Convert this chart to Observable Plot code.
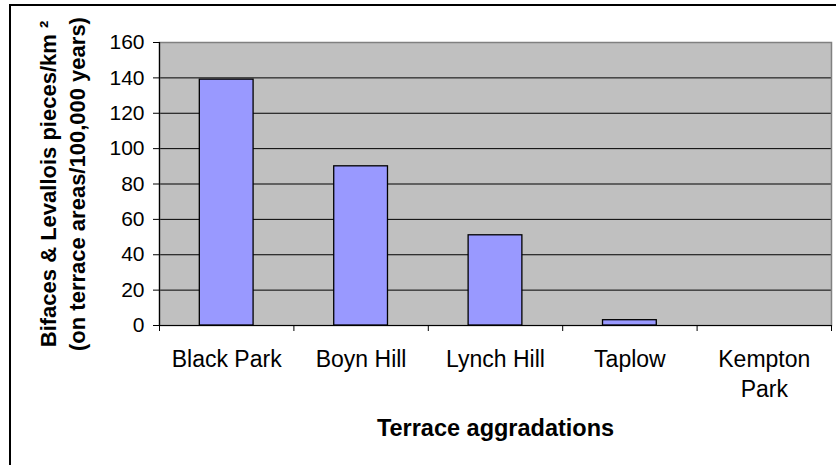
<!DOCTYPE html>
<html>
<head>
<meta charset="utf-8">
<script src="https://cdn.jsdelivr.net/npm/d3@7"></script>
<script src="https://cdn.jsdelivr.net/npm/@observablehq/plot@0.6"></script>
<style>
  html, body { margin: 0; padding: 0; background: #fff; }
  #chart { position: relative; width: 836px; height: 465px; overflow: hidden; }
  #chart svg { position: absolute; left: 0; top: 0; }
  #border { position: absolute; left: 9px; top: 4px; width: 900px; height: 600px;
            border: 2px solid #000; box-sizing: border-box; pointer-events: none; }
</style>
</head>
<body>
<div id="chart"><div id="border"></div></div>
<script>
// Terrace aggradations and their handaxe / Levallois densities
const sites = ["Black Park", "Boyn Hill", "Lynch Hill", "Taplow", "Kempton Park"];
const siteLabels = ["Black Park", "Boyn Hill", "Lynch Hill", "Taplow", "Kempton\nPark"];
const density = [139, 90, 51, 3, 0];
const yTicks = [0, 20, 40, 60, 80, 100, 120, 140, 160];
const yTitle = "Bifaces & Levallois pieces/km \u00b2\n(on terrace areas/100,000 years)";
const xTitle = "Terrace aggradations";

const rows = sites.map((site, i) => ({site, value: density[i]}));

const width = 836, height = 465;
const marginLeft = 159, marginRight = 5, marginTop = 42, marginBottom = 140;
// category step: with equal inner/outer gap totals the band step is range / n
const step = (width - marginLeft - marginRight) / sites.length;

const chart = Plot.plot({
  width, height, marginLeft, marginRight, marginTop, marginBottom,
  style: {fontFamily: "'Liberation Sans', Arial, sans-serif", fontSize: "22px",
          background: "transparent", color: "#000", overflow: "visible"},
  x: {domain: sites, paddingInner: 0.6, paddingOuter: 0.3, round: false},
  y: {domain: [0, 160]},
  marks: [
    Plot.frame({fill: "#c0c0c0"}),
    Plot.ruleY(yTicks.filter(t => t > 0 && t < 160), {stroke: "#000", strokeWidth: 1}),
    Plot.frame({stroke: "#808080", strokeWidth: 1.5}),
    Plot.barY(rows, {x: "site", y: "value", fill: "#9999ff", stroke: "#000", strokeWidth: 1.3}),
    Plot.ruleY([0], {stroke: "#000", strokeWidth: 1.2}),
    Plot.frame({anchor: "left", stroke: "#000", strokeWidth: 1.2}),
    // category-boundary ticks below the x axis
    Plot.ruleX(sites, {x: d => d, y1: () => 0, y2: () => 0, dx: -step / 2,
                       insetBottom: -6, stroke: "#000"}),
    Plot.ruleX(sites.slice(-1), {x: d => d, y1: () => 0, y2: () => 0, dx: step / 2,
                       insetBottom: -6, stroke: "#000"}),
    Plot.axisY({ticks: yTicks, tickSize: 6, tickPadding: 9, fontSize: 21, label: null}),
    Plot.axisX({tickSize: 0, tickPadding: 20, fontSize: 23, lineHeight: 1.3, label: null,
                tickFormat: d => siteLabels[sites.indexOf(d)]}),
    Plot.text([yTitle], {frameAnchor: "left", rotate: -90, dx: -98, fontSize: 22,
                         textAnchor: "middle", fontWeight: "bold", lineHeight: 1.28,
                         text: d => d}),
    Plot.text([xTitle], {frameAnchor: "bottom", dy: 110, lineAnchor: "bottom",
                         fontSize: 23.5, fontWeight: "bold", text: d => d})
  ]
});

document.getElementById("chart").prepend(chart);
</script>
</body>
</html>
